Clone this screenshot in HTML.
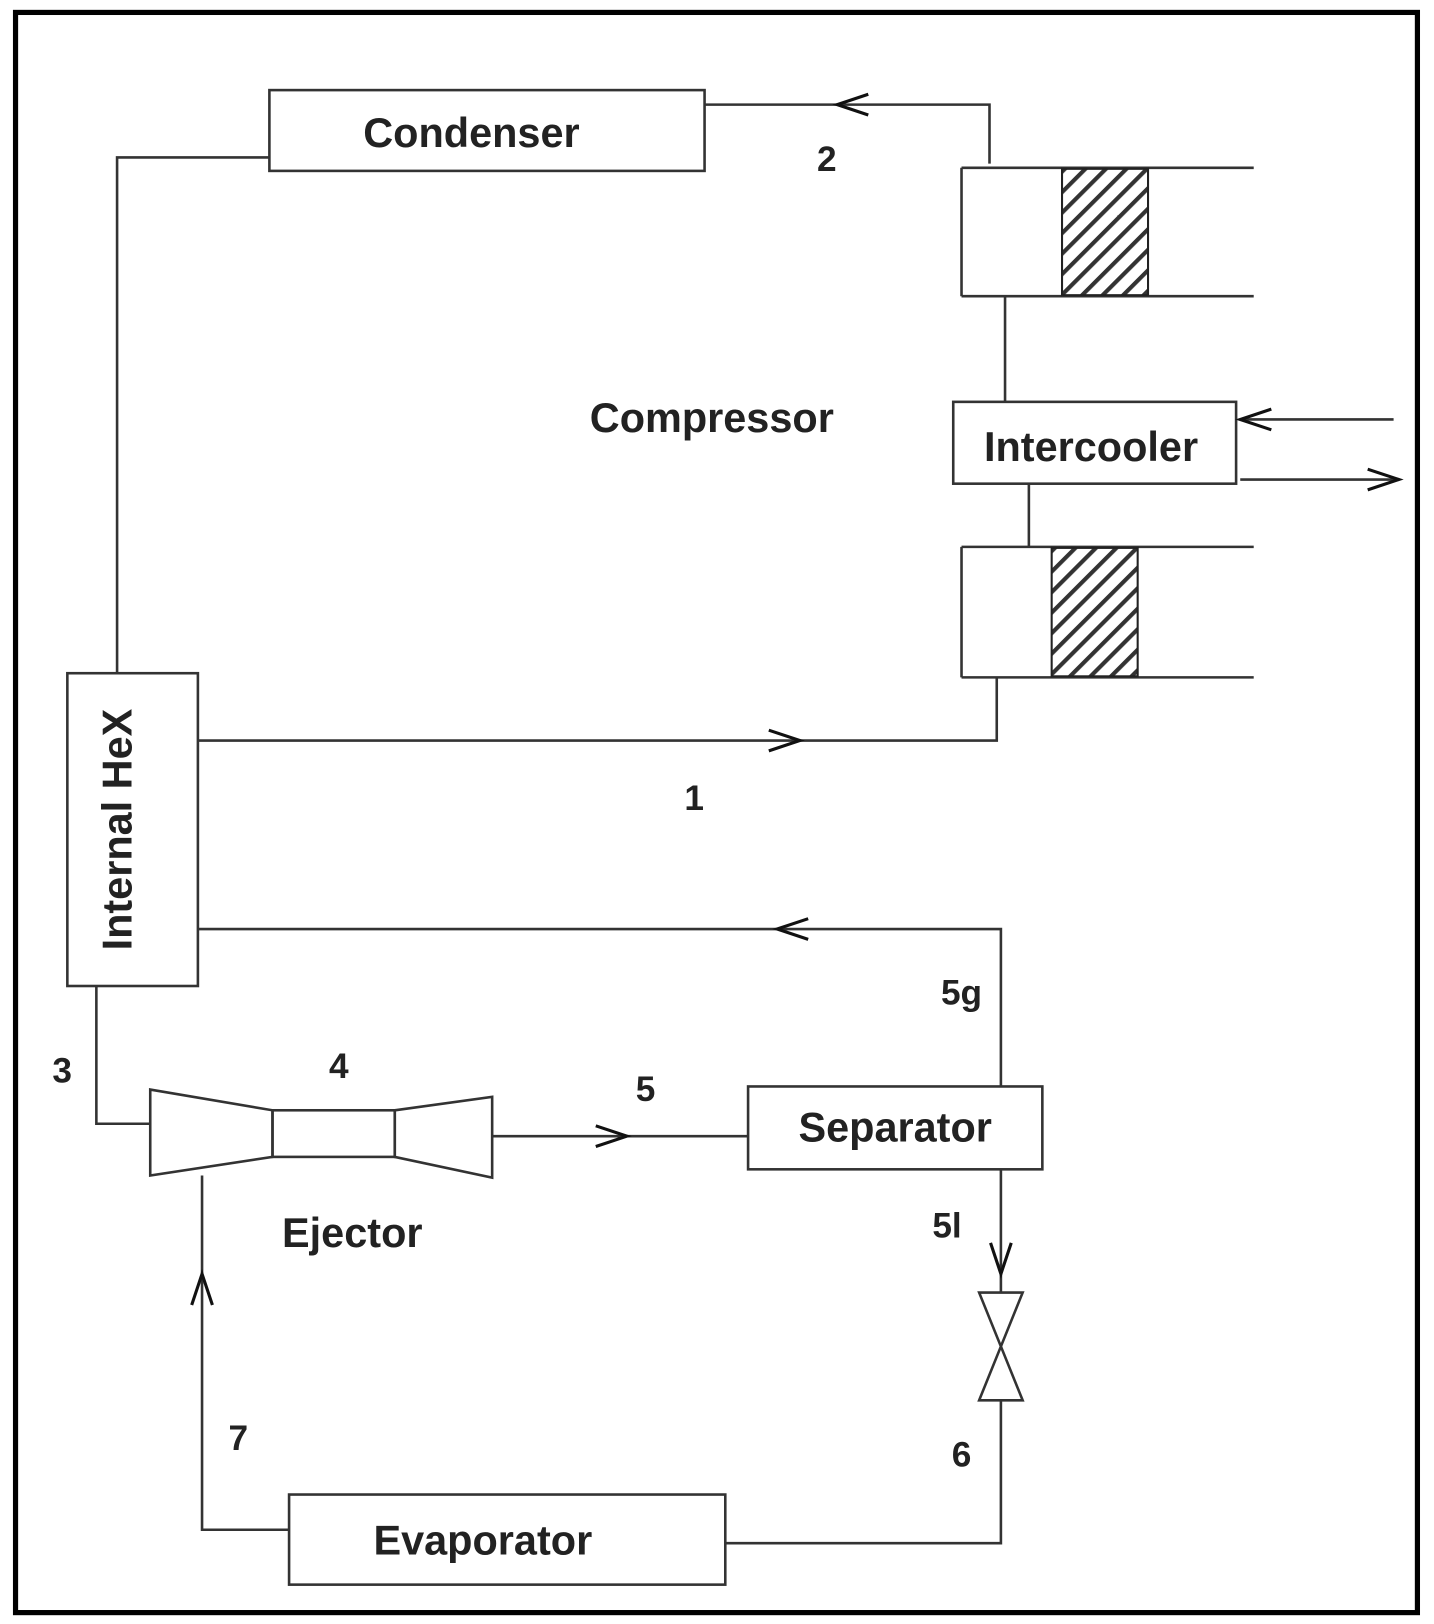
<!DOCTYPE html>
<html><head><style>html,body{margin:0;padding:0;background:#fff}svg{display:block}</style></head>
<body>
<svg width="1434" height="1624" viewBox="0 0 1384 1568" preserveAspectRatio="none" xmlns="http://www.w3.org/2000/svg">
<defs>
<pattern id="h" patternUnits="userSpaceOnUse" width="14" height="14" patternTransform="rotate(45)">
<rect width="14" height="14" fill="#fff"/><rect x="0" y="0" width="4" height="14" fill="#333"/>
</pattern>
</defs>
<rect x="15" y="12" width="1353" height="1545" fill="#fff" stroke="#000" stroke-width="5"/>
<g fill="none" stroke="#333" stroke-width="2.5">
<rect x="260" y="87" width="420" height="78"/>
<polyline points="680,101 955,101 955,158"/>
<polyline points="260,152 113,152 113,649"/>
<line x1="928" y1="162" x2="1210" y2="162"/><line x1="928" y1="286" x2="1210" y2="286"/><line x1="928" y1="162" x2="928" y2="286"/>
<line x1="970" y1="286" x2="970" y2="388"/>
<rect x="920" y="388" width="273" height="79"/>
<line x1="1345" y1="405" x2="1197" y2="405"/><line x1="1197" y1="463" x2="1350" y2="463"/>
<line x1="993" y1="467" x2="993" y2="528"/>
<line x1="928" y1="528" x2="1210" y2="528"/><line x1="928" y1="654" x2="1210" y2="654"/><line x1="928" y1="528" x2="928" y2="654"/>
<polyline points="962,654 962,715 192,715"/>
<rect x="65" y="650" width="126" height="302"/>
<polyline points="192,897 966,897 966,1049"/>
<polyline points="93,952 93,1085 146,1085"/>
<polygon points="145,1052 263,1072 263,1117 145,1135"/>
<rect x="263" y="1072" width="118" height="45"/>
<polygon points="381,1072 475,1059 475,1137 381,1117"/>
<line x1="475" y1="1097" x2="722" y2="1097"/>
<rect x="722" y="1049" width="284" height="80"/>
<line x1="966" y1="1129" x2="966" y2="1248"/>
<polygon points="945,1248 987,1248 966,1300"/>
<polygon points="966,1300 945,1352 987,1352"/>
<polyline points="966,1352 966,1490 700,1490"/>
<rect x="279" y="1443" width="421" height="87"/>
<polyline points="279,1477 195,1477 195,1135"/>
</g>
<rect x="1025" y="163" width="83" height="122" fill="url(#h)" stroke="#222" stroke-width="2"/>
<rect x="1015" y="529" width="83" height="124" fill="url(#h)" stroke="#222" stroke-width="2"/>
<g fill="none" stroke="#111" stroke-width="3">
<polyline points="838,91 808,101 838,111"/>
<polyline points="1227,395 1197,405 1227,415"/>
<polyline points="1320,453 1350,463 1320,473"/>
<polyline points="742,705 772,715 742,725"/>
<polyline points="780,887 750,897 780,907"/>
<polyline points="575,1087 605,1097 575,1107"/>
<polyline points="956,1200 966,1230 976,1200"/>
<polyline points="185,1260 195,1230 205,1260"/>
</g>
<g font-family="Liberation Sans, sans-serif" font-size="40" fill="#222" text-anchor="middle" font-weight="bold">
<text x="455" y="142">Condenser</text>
<text x="687" y="417">Compressor</text>
<text x="1053" y="445">Intercooler</text>
<text x="864" y="1102">Separator</text>
<text x="340" y="1204">Ejector</text>
<text x="466" y="1501">Evaporator</text>
<text transform="translate(127,801) rotate(-90)">Internal HeX</text>
<text x="798" y="165" font-size="34">2</text>
<text x="670" y="782" font-size="34">1</text>
<text x="928" y="970" font-size="34">5g</text>
<text x="60" y="1045" font-size="34">3</text>
<text x="327" y="1041" font-size="34">4</text>
<text x="623" y="1063" font-size="34">5</text>
<text x="914" y="1195" font-size="34">5l</text>
<text x="928" y="1416" font-size="34">6</text>
<text x="230" y="1400" font-size="34">7</text>
</g>
</svg>
</body></html>
